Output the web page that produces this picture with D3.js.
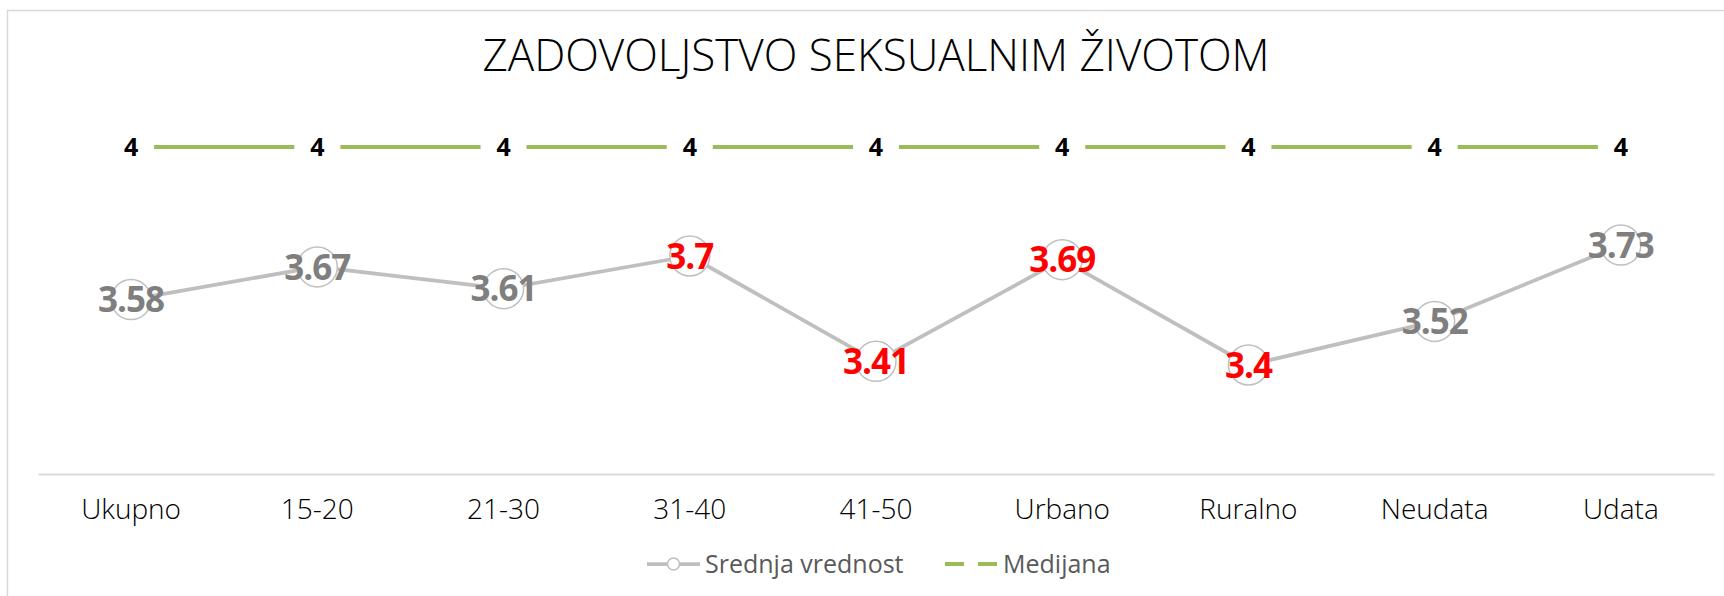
<!DOCTYPE html>
<html>
<head>
<meta charset="utf-8">
<script src="https://cdn.jsdelivr.net/npm/d3@7/dist/d3.min.js"></script>
<style>
  html, body { margin: 0; padding: 0; background: #fff; }
  svg { display: block; }
</style>
</head>
<body>
<svg id="chart" width="1724" height="596"></svg>
<script>
const categories = ["Ukupno", "15-20", "21-30", "31-40", "41-50", "Urbano", "Ruralno", "Neudata", "Udata"];
const meanValues = [3.58, 3.67, 3.61, 3.7, 3.41, 3.69, 3.4, 3.52, 3.73];
const medianValues = [4, 4, 4, 4, 4, 4, 4, 4, 4];
const highlighted = [false, false, false, true, true, true, true, false, false];
const titleText = "ZADOVOLJSTVO SEKSUALNIM ŽIVOTOM";
const seriesNames = ["Srednja vrednost", "Medijana"];

const W = 1724, H = 596;
const svg = d3.select("#chart");
const font = "'Open Sans', sans-serif";

// chart border (only top and left visible in the frame)
svg.append("rect")
  .attr("x", 7.5).attr("y", 10.5)
  .attr("width", W + 20).attr("height", H + 20)
  .attr("fill", "none").attr("stroke", "#d9d9d9").attr("stroke-width", 1.5);

const x = d3.scaleBand().domain(categories).range([38, 1714]);
const y = d3.scaleLinear().domain([3.1, 4]).range([474, 147]);
const cx = d => x(d) + x.bandwidth() / 2;

// title
svg.append("text")
  .attr("x", (38 + 1714) / 2).attr("y", 71)
  .attr("text-anchor", "middle")
  .attr("font-family", font).attr("font-weight", 300)
  .attr("font-size", 44).attr("fill", "#000")
  .text(titleText);

// category axis
const axis = svg.append("g").attr("transform", "translate(0,474)")
  .call(d3.axisBottom(x).tickSize(0).tickPadding(0));
axis.select(".domain").attr("stroke", "#d9d9d9").attr("stroke-width", 2);
axis.selectAll(".tick text")
  .attr("font-family", font).attr("font-weight", 300)
  .attr("font-size", 28).attr("fill", "#000")
  .attr("dy", 0).attr("y", 45);

// median line
const medLine = d3.line().x((d, i) => cx(categories[i])).y(d => y(d));
svg.append("path").datum(medianValues)
  .attr("d", medLine).attr("fill", "none")
  .attr("stroke", "#9bbb59").attr("stroke-width", 4);

const medLabels = svg.append("g").selectAll("g").data(medianValues).join("g")
  .attr("transform", (d, i) => `translate(${cx(categories[i])},${y(d)})`);
medLabels.append("rect")
  .attr("x", -23).attr("y", -18).attr("width", 46).attr("height", 36)
  .attr("fill", "#fff");
medLabels.append("text")
  .attr("text-anchor", "middle").attr("dy", "0.35em")
  .attr("font-family", font).attr("font-weight", 700)
  .attr("font-size", 25).attr("fill", "#000")
  .text(d => d);

// mean line
const meanLine = d3.line().x((d, i) => cx(categories[i])).y(d => y(d));
svg.append("path").datum(meanValues)
  .attr("d", meanLine).attr("fill", "none")
  .attr("stroke", "#bfbfbf").attr("stroke-width", 3.75)
  .attr("stroke-linejoin", "round");

svg.append("g").selectAll("circle").data(meanValues).join("circle")
  .attr("cx", (d, i) => cx(categories[i])).attr("cy", d => y(d))
  .attr("r", 20).attr("fill", "#fff")
  .attr("stroke", "#bfbfbf").attr("stroke-width", 1.5);

svg.append("g").selectAll("text").data(meanValues).join("text")
  .attr("x", (d, i) => cx(categories[i])).attr("y", d => y(d))
  .attr("text-anchor", "middle").attr("dy", "0.36em")
  .attr("font-family", font).attr("font-weight", 700)
  .attr("font-size", 35).attr("letter-spacing", -1)
  .attr("fill", (d, i) => highlighted[i] ? "#ff0000" : "#7f7f7f")
  .text(d => d);

// legend
const lg = svg.append("g").attr("transform", "translate(0,564)");
lg.append("line").attr("x1", 647).attr("x2", 700).attr("y1", 0).attr("y2", 0)
  .attr("stroke", "#bfbfbf").attr("stroke-width", 3.75);
lg.append("circle").attr("cx", 673.5).attr("cy", 0).attr("r", 6)
  .attr("fill", "#fff").attr("stroke", "#bfbfbf").attr("stroke-width", 1.5);
lg.append("text").attr("x", 705).attr("y", 0).attr("dy", "0.35em")
  .attr("font-family", font).attr("font-size", 25).attr("fill", "#595959")
  .text(seriesNames[0]);
lg.append("line").attr("x1", 945).attr("x2", 998).attr("y1", 0).attr("y2", 0)
  .attr("stroke", "#9bbb59").attr("stroke-width", 4)
  .attr("stroke-dasharray", "19,14");
lg.append("text").attr("x", 1003).attr("y", 0).attr("dy", "0.35em")
  .attr("font-family", font).attr("font-size", 25).attr("fill", "#595959")
  .text(seriesNames[1]);
</script>
</body>
</html>
